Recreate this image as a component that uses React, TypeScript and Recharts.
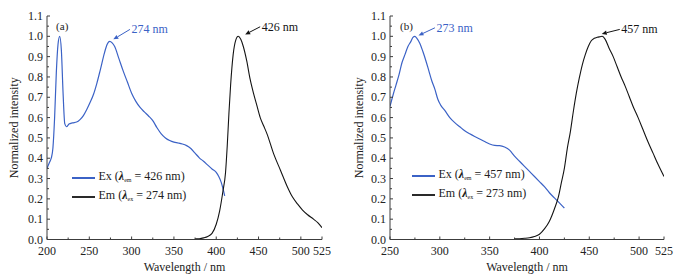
import React from 'react';
import { LineChart, Line, XAxis, YAxis, ReferenceLine, Legend } from 'recharts';

const FONT = '"Liberation Serif", "Times New Roman", serif';
const BLUE = '#3b62c6';
const BLACK = '#141414';
const AXIS = '#3c3c3c';

// Panel (a): excitation (λem = 426 nm) and emission (λex = 274 nm)
const exA: [number, number][] = [
  [200, 0.35], [203, 0.38], [205, 0.40], [207, 0.45], [209, 0.6], [211, 0.82], [213, 0.96],
  [215, 1.0], [217, 0.93], [219, 0.72], [221, 0.57], [223, 0.555], [226, 0.568], [230, 0.574],
  [235, 0.578], [239, 0.59], [243, 0.61], [247, 0.64], [251, 0.675], [255, 0.715], [259, 0.77],
  [263, 0.835], [268, 0.92], [271, 0.96], [274, 0.975], [277, 0.968], [280, 0.95], [285, 0.89],
  [290, 0.83], [295, 0.775], [300, 0.72], [305, 0.68], [310, 0.65], [315, 0.628], [320, 0.608],
  [325, 0.585], [330, 0.55], [335, 0.52], [340, 0.5], [345, 0.487], [350, 0.479], [355, 0.475],
  [360, 0.47], [365, 0.462], [370, 0.448], [375, 0.425], [380, 0.402], [385, 0.385], [390, 0.366],
  [395, 0.347], [400, 0.33], [403, 0.31], [406, 0.28], [408, 0.25], [410, 0.215],
];
const emA: [number, number][] = [
  [375, 0.003], [380, 0.004], [385, 0.008], [390, 0.015], [395, 0.03], [400, 0.075], [404, 0.14],
  [408, 0.24], [411, 0.33], [413, 0.46], [415, 0.62], [417, 0.76], [420, 0.91], [423, 0.98],
  [426, 1.0], [429, 0.985], [432, 0.95], [436, 0.88], [440, 0.79], [444, 0.72], [448, 0.66],
  [452, 0.6], [456, 0.56], [460, 0.52], [468, 0.42], [476, 0.34], [484, 0.26], [490, 0.21],
  [496, 0.175], [502, 0.145], [508, 0.122], [515, 0.1], [520, 0.083], [525, 0.058],
];

// Panel (b): excitation (λem = 457 nm) and emission (λex = 273 nm)
const exB: [number, number][] = [
  [250, 0.655], [253, 0.71], [256, 0.76], [259, 0.81], [262, 0.87], [265, 0.91], [268, 0.95],
  [271, 0.975], [273, 0.995], [275, 1.0], [277, 0.99], [280, 0.965], [283, 0.925], [286, 0.88],
  [289, 0.83], [292, 0.78], [295, 0.74], [298, 0.69], [301, 0.66], [305, 0.635], [310, 0.6],
  [315, 0.575], [320, 0.555], [325, 0.535], [330, 0.52], [335, 0.507], [340, 0.495], [345, 0.482],
  [350, 0.47], [355, 0.463], [360, 0.462], [365, 0.455], [370, 0.44], [375, 0.41], [380, 0.385],
  [385, 0.36], [390, 0.335], [395, 0.31], [400, 0.285], [405, 0.26], [410, 0.23], [415, 0.205],
  [420, 0.18], [425, 0.155],
];
const emB: [number, number][] = [
  [375, 0.003], [380, 0.004], [385, 0.006], [390, 0.009], [395, 0.015], [400, 0.026], [405, 0.052],
  [410, 0.09], [415, 0.15], [419, 0.21], [422, 0.28], [425, 0.35], [428, 0.45], [431, 0.53],
  [434, 0.63], [437, 0.72], [440, 0.795], [443, 0.86], [446, 0.91], [449, 0.95], [452, 0.978],
  [455, 0.99], [458, 0.995], [461, 0.998], [463, 1.0], [466, 0.985], [470, 0.94], [474, 0.9],
  [478, 0.85], [482, 0.8], [486, 0.755], [490, 0.705], [494, 0.655], [499, 0.6], [504, 0.54],
  [509, 0.48], [514, 0.425], [519, 0.37], [525, 0.31],
];

const yTicks = [0, 0.05, 0.1, 0.15, 0.2, 0.25, 0.3, 0.35, 0.4, 0.45, 0.5, 0.55, 0.6, 0.65, 0.7, 0.75, 0.8, 0.85, 0.9, 0.95, 1.0, 1.05, 1.1];
const xTicksA = [200, 225, 250, 275, 300, 325, 350, 375, 400, 425, 450, 475, 500, 525];
const xLabelsA = [200, 250, 300, 350, 400, 450, 500, 525];
const xTicksB = [250, 275, 300, 325, 350, 375, 400, 425, 450, 475, 500, 525];
const xLabelsB = [250, 300, 350, 400, 450, 500, 525];

const toRows = (pts: [number, number][]) => pts.map(([x, y]) => ({ x, y }));

const XTick = (props: any) => {
  const { x, y, payload, labels } = props;
  const v = payload.value;
  const major = labels.includes(v);
  return (
    <g>
      <line x1={x} x2={x} y1={y} y2={y - (major ? 3 : 2)} stroke={AXIS} strokeWidth={1} />
      {major && (
        <text x={x} y={y + 15.5} textAnchor="middle" fontFamily={FONT} fontSize={12} fill="#222">
          {v}
        </text>
      )}
    </g>
  );
};

const YTick = (props: any) => {
  const { x, y, payload } = props;
  const v = payload.value;
  const major = Math.abs(v * 10 - Math.round(v * 10)) < 1e-6;
  return (
    <g>
      <line x1={x} x2={x + (major ? 3 : 2)} y1={y} y2={y} stroke={AXIS} strokeWidth={1} />
      {major && (
        <text x={x - 4} y={y + 4} textAnchor="end" fontFamily={FONT} fontSize={12} fill="#222">
          {v.toFixed(1)}
        </text>
      )}
    </g>
  );
};

const annot = (text: string, color: string, arrow: boolean, anchor: 'start' | 'middle' = 'start') => (p: any) => {
  const { x1, y1, x2, y2 } = p;
  if (!arrow) {
    return (
      <text x={x1} y={y1 + 4} textAnchor="middle" fontFamily={FONT} fontSize={11} fill={color}>
        {text}
      </text>
    );
  }
  const dx = x2 - x1;
  const dy = y2 - y1;
  const len = Math.sqrt(dx * dx + dy * dy) || 1;
  const ux = dx / len;
  const uy = dy / len;
  const hl = 5;
  const hw = 2.2;
  const bx = x2 - ux * hl;
  const by = y2 - uy * hl;
  const head = `M${x2},${y2} L${bx - uy * hw},${by + ux * hw} L${bx + uy * hw},${by - ux * hw} Z`;
  return (
    <g>
      <line x1={x1} y1={y1} x2={bx} y2={by} stroke={color} strokeWidth={1} />
      <path d={head} fill={color} stroke="none" />
      <text x={x1 + 1.5} y={y1 + 4} textAnchor={anchor} fontFamily={FONT} fontSize={12} fill={color}>
        {text}
      </text>
    </g>
  );
};

type PanelProps = {
  ex: [number, number][];
  em: [number, number][];
  domain: [number, number];
  xTicks: number[];
  xLabels: number[];
  tag: string;
  tagAt: [number, number];
  exTail: [number, number];
  exTip: [number, number];
  exText: string;
  emTail: [number, number];
  emTip: [number, number];
  emText: string;
  legendEx: string;
  legendEm: string;
  left: number;
  width: number;
  yAxisWidth: number;
  marginRight: number;
  yTitleX: number;
  legendLeft: number;
  legendTop: number;
};

const LegendRow = ({ color, name, sub, val }: { color: string; name: string; sub: string; val: string }) => (
  <div style={{ display: 'flex', alignItems: 'center', height: 19, whiteSpace: 'nowrap' }}>
    <span style={{ display: 'inline-block', width: 23, height: 2, background: color, marginRight: 4 }} />
    <span style={{ fontFamily: FONT, fontSize: 12, color: '#222', lineHeight: '12px' }}>
      {name} (<b><i>λ</i></b>
      <sub style={{ fontSize: 6, verticalAlign: '-2px' }}>{sub}</sub> = {val})
    </span>
  </div>
);

const Panel = (p: PanelProps) => {
  const exRows = toRows(p.ex);
  const emRows = toRows(p.em);
  return (
    <div style={{ position: 'absolute', left: p.left, top: 0 }}>
      <LineChart width={p.width} height={280} margin={{ top: 16, right: p.marginRight, bottom: 0, left: 0 }}>
        <XAxis
          dataKey="x"
          type="number"
          domain={p.domain}
          ticks={p.xTicks}
          interval={0}
          allowDataOverflow
          height={40.5}
          tickSize={0}
          tickMargin={0}
          tickLine={false}
          axisLine={{ stroke: AXIS }}
          tick={<XTick labels={p.xLabels} />}
          label={{
            content: ({ viewBox }: any) => (
              <text
                x={viewBox.x + viewBox.width / 2}
                y={viewBox.y + 31}
                textAnchor="middle"
                fontFamily={FONT}
                fontSize={12}
                fill="#222"
              >
                Wavelength / nm
              </text>
            ),
          }}
        />
        <XAxis xAxisId="top" orientation="top" type="number" domain={p.domain} height={0} tick={false} tickLine={false} axisLine={{ stroke: AXIS }} />
        <YAxis
          type="number"
          domain={[0, 1.1]}
          ticks={yTicks}
          interval={0}
          allowDataOverflow
          width={p.yAxisWidth}
          tickSize={0}
          tickMargin={0}
          tickLine={false}
          axisLine={{ stroke: AXIS }}
          tick={<YTick />}
          label={{
            content: ({ viewBox }: any) => {
              const cx = viewBox.x + p.yTitleX;
              const cy = viewBox.y + viewBox.height / 2;
              return (
                <text
                  x={cx}
                  y={cy}
                  transform={`rotate(-90, ${cx}, ${cy})`}
                  textAnchor="middle"
                  dominantBaseline="central"
                  fontFamily={FONT}
                  fontSize={12}
                  fill="#222"
                >
                  Normalized intensity
                </text>
              );
            },
          }}
        />
        <YAxis yAxisId="right" orientation="right" type="number" domain={[0, 1.1]} width={0} tick={false} tickLine={false} axisLine={{ stroke: AXIS }} />
        <Line data={exRows} dataKey="y" type="monotone" stroke={BLUE} strokeWidth={1.2} dot={false} isAnimationActive={false} />
        <Line data={emRows} dataKey="y" type="monotone" stroke={BLACK} strokeWidth={1.1} dot={false} isAnimationActive={false} />
        <ReferenceLine
          segment={[{ x: p.tagAt[0], y: p.tagAt[1] }, { x: p.tagAt[0], y: p.tagAt[1] }]}
          shape={annot(p.tag, '#222', false)}
        />
        <ReferenceLine
          segment={[{ x: p.exTail[0], y: p.exTail[1] }, { x: p.exTip[0], y: p.exTip[1] }]}
          shape={annot(p.exText, BLUE, true)}
        />
        <ReferenceLine
          segment={[{ x: p.emTail[0], y: p.emTail[1] }, { x: p.emTip[0], y: p.emTip[1] }]}
          shape={annot(p.emText, BLACK, true)}
        />
        <Legend
          layout="vertical"
          align="center"
          verticalAlign="middle"
          wrapperStyle={{ position: 'absolute', left: p.legendLeft, top: p.legendTop, width: 'auto', height: 'auto' }}
          content={() => (
            <div>
              <LegendRow color={BLUE} name="Ex" sub="em" val={p.legendEx} />
              <LegendRow color="#2a2a2a" name="Em" sub="ex" val={p.legendEm} />
            </div>
          )}
        />
      </LineChart>
    </div>
  );
};

export default function App() {
  return (
    <div style={{ position: 'absolute', left: 0, top: 0, width: 691, height: 280, background: '#fff', overflow: 'hidden' }}>
      <Panel
        ex={exA}
        em={emA}
        domain={[200, 525]}
        xTicks={xTicksA}
        xLabels={xLabelsA}
        tag="(a)"
        tagAt={[218, 1.05]}
        exTail={[298, 1.034]}
        exTip={[278.4, 0.985]}
        exText="274 nm"
        emTail={[451.9, 1.047]}
        emTip={[434.2, 1.009]}
        emText="426 nm"
        legendEx="426 nm"
        legendEm="274 nm"
        left={0}
        width={345}
        yAxisWidth={47}
        marginRight={23}
        yTitleX={14}
        legendLeft={71.5}
        legendTop={168}
      />
      <Panel
        ex={exB}
        em={emB}
        domain={[250, 525]}
        xTicks={xTicksB}
        xLabels={xLabelsB}
        tag="(b)"
        tagAt={[266.5, 1.05]}
        exTail={[295.1, 1.042]}
        exTip={[278.6, 1.004]}
        exText="273 nm"
        emTail={[480.6, 1.034]}
        emTip={[462.5, 1.012]}
        emText="457 nm"
        legendEx="457 nm"
        legendEm="273 nm"
        left={345}
        width={346}
        yAxisWidth={45}
        marginRight={27}
        yTitleX={14}
        legendLeft={66.5}
        legendTop={166.5}
      />
    </div>
  );
}
